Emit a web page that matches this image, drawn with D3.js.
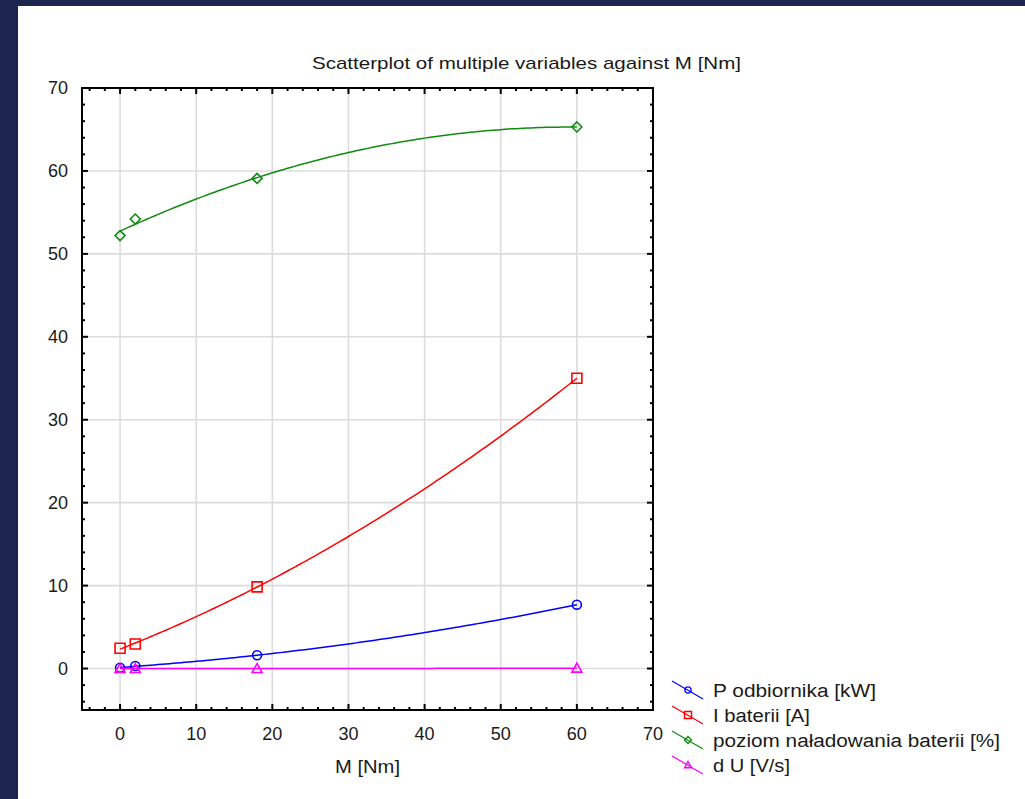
<!DOCTYPE html>
<html>
<head>
<meta charset="utf-8">
<script src="https://cdn.jsdelivr.net/npm/d3@7/dist/d3.min.js"></script>
<style>
  html, body { margin: 0; padding: 0; background: #1b2550; }
  svg { display: block; }
  text { font-family: "Liberation Sans", Arial, sans-serif; fill: #1a1a1a; }
</style>
</head>
<body>
<svg id="chart" width="1025" height="799"></svg>
<script>
// M [Nm] values shared by every series
const torque = [0, 2, 18, 60];

// Measured variables
const pOdbiornika = [0.1, 0.3, 1.6, 7.7];      // P odbiornika [kW]
const iBaterii = [2.45, 2.95, 9.85, 35.0];     // I baterii [A]
const poziomNaladowania = [52.2, 54.2, 59.1, 65.3]; // poziom naładowania baterii [%]
const dU = [0.0, 0.0, 0.0, 0.05];              // d U [V/s]

const seriesNames = ["P odbiornika [kW]", "I baterii [A]", "poziom naładowania baterii [%]", "d U [V/s]"];
const seriesValues = [pOdbiornika, iBaterii, poziomNaladowania, dU];
const seriesColors = ["#0000ff", "#ff0000", "#118a11", "#ff00ff"];
const seriesMarkers = ["circle", "square", "diamond", "triangle"];

const xTicks = [0, 10, 20, 30, 40, 50, 60, 70];
const yTicks = [0, 10, 20, 30, 40, 50, 60, 70];

const titleText = "Scatterplot of multiple variables against M [Nm]";
const xLabel = "M [Nm]";

const svg = d3.select("#chart");

// white page area over the dark backdrop
svg.append("rect").attr("x", 0).attr("y", 0).attr("width", 1025).attr("height", 799).attr("fill", "#1b2550");
svg.append("rect").attr("x", 18).attr("y", 6).attr("width", 1007).attr("height", 793).attr("fill", "#ffffff");

const plot = { left: 82, right: 653, top: 88, bottom: 710 };
const x = d3.scaleLinear().domain([-5, 70]).range([plot.left, plot.right]);
const y = d3.scaleLinear().domain([-5, 70]).range([plot.bottom, plot.top]);

// grid
const grid = svg.append("g").attr("stroke", "#dcdcdc").attr("stroke-width", 1.6);
xTicks.forEach(t => grid.append("line").attr("x1", x(t)).attr("x2", x(t)).attr("y1", plot.top).attr("y2", plot.bottom));
yTicks.forEach(t => grid.append("line").attr("y1", y(t)).attr("y2", y(t)).attr("x1", plot.left).attr("x2", plot.right));

// quadratic least-squares fit
function quadFit(xs, ys) {
  const n = xs.length;
  let s = [0, 0, 0, 0, 0], t = [0, 0, 0];
  for (let i = 0; i < n; i++) {
    for (let k = 0; k < 5; k++) s[k] += Math.pow(xs[i], k);
    for (let k = 0; k < 3; k++) t[k] += ys[i] * Math.pow(xs[i], k);
  }
  const A = [[s[0], s[1], s[2], t[0]], [s[1], s[2], s[3], t[1]], [s[2], s[3], s[4], t[2]]];
  for (let c = 0; c < 3; c++) {
    let p = c;
    for (let r = c + 1; r < 3; r++) if (Math.abs(A[r][c]) > Math.abs(A[p][c])) p = r;
    [A[c], A[p]] = [A[p], A[c]];
    for (let r = 0; r < 3; r++) {
      if (r === c) continue;
      const f = A[r][c] / A[c][c];
      for (let k = c; k < 4; k++) A[r][k] -= f * A[c][k];
    }
  }
  const coef = [A[0][3] / A[0][0], A[1][3] / A[1][1], A[2][3] / A[2][2]];
  return v => coef[0] + coef[1] * v + coef[2] * v * v;
}

function markerPath(type, size) {
  const h = size / 2;
  if (type === "circle") return d3.symbol(d3.symbolCircle, Math.PI * h * h * 0.8)();
  if (type === "square") return `M${-h},${-h}H${h}V${h}H${-h}Z`;
  if (type === "diamond") return `M0,${-h}L${h},0L0,${h}L${-h},0Z`;
  return `M0,${-h}L${h},${h * 0.8}H${-h}Z`;
}

const lineGen = d3.line().x(d => x(d[0])).y(d => y(d[1]));

seriesValues.forEach((vals, si) => {
  const f = quadFit(torque, vals);
  const xMin = d3.min(torque), xMax = d3.max(torque);
  const pts = d3.range(0, 121).map(i => {
    const v = xMin + (xMax - xMin) * i / 120;
    return [v, f(v)];
  });
  const g = svg.append("g");
  g.append("path").attr("d", lineGen(pts)).attr("fill", "none")
    .attr("stroke", seriesColors[si]).attr("stroke-width", 1.5);
  torque.forEach((tv, i) => {
    g.append("path").attr("d", markerPath(seriesMarkers[si], 10))
      .attr("transform", `translate(${x(tv)},${y(vals[i])})`)
      .attr("fill", "none").attr("stroke", seriesColors[si]).attr("stroke-width", 1.6);
  });
});

// frame and inward ticks
const axisG = svg.append("g").attr("stroke", "#000");
axisG.append("rect").attr("x", plot.left).attr("y", plot.top)
  .attr("width", plot.right - plot.left).attr("height", plot.bottom - plot.top)
  .attr("fill", "none").attr("stroke-width", 2);
d3.range(-4, 70, 2).forEach(t => {
  const major = t % 10 === 0;
  const len = major ? 6 : 3;
  axisG.append("line").attr("x1", x(t)).attr("x2", x(t)).attr("y1", plot.bottom).attr("y2", plot.bottom - len).attr("stroke-width", 2);
  axisG.append("line").attr("x1", x(t)).attr("x2", x(t)).attr("y1", plot.top).attr("y2", plot.top + len).attr("stroke-width", 2);
  axisG.append("line").attr("y1", y(t)).attr("y2", y(t)).attr("x1", plot.left).attr("x2", plot.left + len).attr("stroke-width", 2);
  axisG.append("line").attr("y1", y(t)).attr("y2", y(t)).attr("x1", plot.right).attr("x2", plot.right - len).attr("stroke-width", 2);
});

// tick labels
const fs = 18;
xTicks.forEach(t => svg.append("text").attr("x", x(t)).attr("y", 740)
  .attr("text-anchor", "middle").attr("font-size", fs).text(t));
yTicks.forEach(t => svg.append("text").attr("x", 68).attr("y", y(t) + 6)
  .attr("text-anchor", "end").attr("font-size", fs).text(t));

// title and axis label
svg.append("text").attr("x", 312).attr("y", 69)
  .attr("font-size", 17).attr("textLength", 429).attr("lengthAdjust", "spacingAndGlyphs").text(titleText);
svg.append("text").attr("x", 335).attr("y", 773)
  .attr("font-size", fs).attr("textLength", 65).attr("lengthAdjust", "spacingAndGlyphs").text(xLabel);

// legend
const legendWidths = [163, 97, 287, 77];
seriesNames.forEach((name, i) => {
  const cy = 690 + i * 25;
  const g = svg.append("g");
  g.append("line").attr("x1", 672).attr("y1", cy - 9).attr("x2", 703).attr("y2", cy + 9)
    .attr("stroke", seriesColors[i]).attr("stroke-width", 1.2);
  g.append("path").attr("d", markerPath(seriesMarkers[i], 7))
    .attr("transform", `translate(688,${cy})`)
    .attr("fill", "none").attr("stroke", seriesColors[i]).attr("stroke-width", 1.4);
  g.append("text").attr("x", 713).attr("y", cy + 7).attr("font-size", fs)
    .attr("textLength", legendWidths[i]).attr("lengthAdjust", "spacingAndGlyphs").text(name);
});
</script>
</body>
</html>
